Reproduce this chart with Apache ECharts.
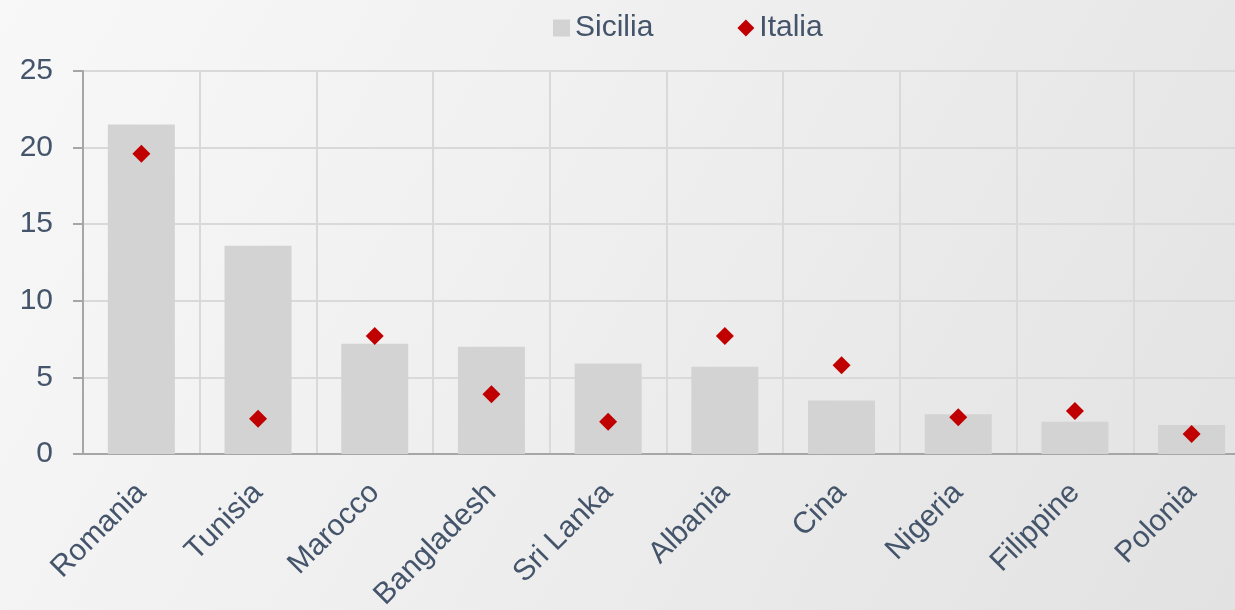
<!DOCTYPE html>
<html>
<head>
<meta charset="utf-8">
<script src="https://cdn.jsdelivr.net/npm/echarts@6/dist/echarts.min.js"></script>
<style>
  html, body { margin: 0; padding: 0; }
  #chart {
    width: 1235px;
    height: 610px;
    background: linear-gradient(120deg, #f8f8f8 0%, #efefef 45%, #e2e2e2 100%);
  }
</style>
</head>
<body>
<div id="chart"></div>
<script>
  // dati
  let paesi = ['Romania', 'Tunisia', 'Marocco', 'Bangladesh', 'Sri Lanka', 'Albania', 'Cina', 'Nigeria', 'Filippine', 'Polonia']
  let sicilia = [21.5, 13.6, 7.2, 7.0, 5.9, 5.7, 3.5, 2.6, 2.1, 1.9]
  let italia = [19.6, 2.3, 7.7, 3.9, 2.1, 7.7, 5.8, 2.4, 2.8, 1.3]

  let textColor = '#44546a'
  let font = 'Liberation Sans, Arial, sans-serif'

  let myChart = echarts.init(document.getElementById('chart'))

  let option = {
    backgroundColor: 'transparent',
    textStyle: { fontFamily: font },
    legend: {
      left: 548,
      top: 8,
      itemWidth: 17,
      itemHeight: 17,
      itemGap: 84,
      textStyle: { color: textColor, fontSize: 30, fontFamily: font },
      data: [
        { name: 'Sicilia', icon: 'rect' },
        { name: 'Italia', icon: 'diamond' }
      ]
    },
    grid: {
      left: 83,
      top: 71,
      right: -15,
      bottom: 156,
      outerBoundsMode: 'none',
      containLabel: false
    },
    xAxis: {
      type: 'category',
      data: paesi,
      boundaryGap: true,
      axisLine: { lineStyle: { color: '#a6a6a6', width: 2 } },
      axisTick: { length: 10, lineStyle: { color: '#a6a6a6', width: 2 } },
      splitLine: { show: true, lineStyle: { color: '#d9d9d9', width: 2 } },
      axisLabel: {
        rotate: 45,
        margin: 34,
        interval: 0,
        color: textColor,
        fontSize: 30,
        fontFamily: font
      }
    },
    yAxis: {
      type: 'value',
      min: 0,
      max: 25,
      interval: 5,
      axisLine: { show: true, lineStyle: { color: '#a6a6a6', width: 2 } },
      axisTick: { show: true, length: 10, lineStyle: { color: '#a6a6a6', width: 2 } },
      splitLine: { lineStyle: { color: '#d9d9d9', width: 2 } },
      axisLabel: {
        margin: 30,
        color: textColor,
        fontSize: 30,
        fontFamily: font
      }
    },
    series: [
      {
        name: 'Sicilia',
        type: 'bar',
        barWidth: 67,
        data: sicilia,
        itemStyle: { color: '#d3d3d3' }
      },
      {
        name: 'Italia',
        type: 'scatter',
        symbol: 'diamond',
        symbolSize: 18,
        data: italia,
        itemStyle: { color: '#c00000', opacity: 1 },
        z: 5
      }
    ]
  }

  myChart.setOption(option, true)
</script>
</body>
</html>
